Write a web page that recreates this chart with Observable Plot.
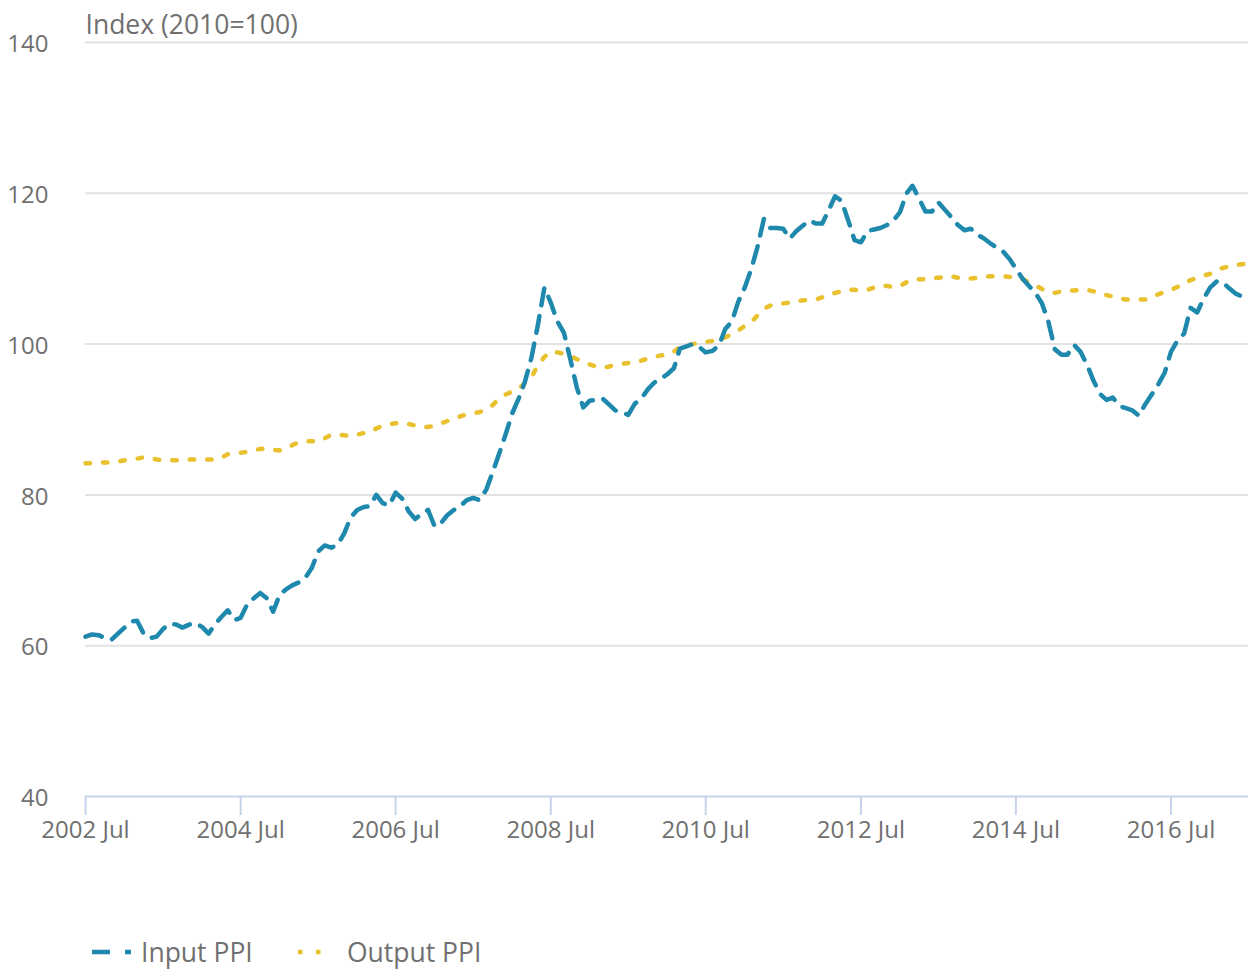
<!DOCTYPE html>
<html>
<head>
<meta charset="utf-8">
<script src="https://cdn.jsdelivr.net/npm/d3@7"></script>
<script src="https://cdn.jsdelivr.net/npm/@observablehq/plot@0.6"></script>
<style>
  html, body { margin: 0; padding: 0; background: #fff; }
  body { font-family: "Open Sans", sans-serif; width: 1248px; height: 970px; position: relative; overflow: hidden; }
  #chart { position: absolute; left: 0; top: 0; }
  #legend { position: absolute; left: 0; top: 934px; height: 40px; width: 1248px; }
  #legend .item { position: absolute; top: 0; display: flex; align-items: center; font-size: 26.5px; color: #707070; }
  #legend svg { display: block; }
</style>
</head>
<body>
<div id="chart"></div>
<div id="legend">
  <div class="item" style="left:92px">
    <svg width="40" height="36"><line x1="0" x2="39" y1="18" y2="18" stroke="#1f88ad" stroke-width="4.5" stroke-dasharray="18,15"/></svg>
    <span style="margin-left:9px">Input PPI</span>
  </div>
  <div class="item" style="left:298px">
    <svg width="26" height="36"><line x1="0" x2="26" y1="18" y2="18" stroke="#e9c12f" stroke-width="4.5" stroke-dasharray="4.5,13.5"/></svg>
    <span style="margin-left:23px">Output PPI</span>
  </div>
</div>
<script>
// Monthly observations, starting 2002 Jul
const startMonth = "2002-07-01";
const inputPPI = [
  61.2,61.5,61.4,61.0,60.8,61.6,62.4,63.2,63.3,61.6,61.0,61.2,
  62.2,62.9,62.8,62.4,62.8,63.0,62.5,61.6,62.8,63.8,64.7,63.4,
  63.7,65.5,66.3,67.0,66.3,64.5,66.8,67.5,68.0,68.4,69.0,70.3,
  72.5,73.3,73.0,73.4,74.9,77.0,78.0,78.4,78.5,80.0,78.9,78.6,
  80.3,79.5,77.8,76.8,77.5,78.0,75.8,76.3,77.3,78.0,78.5,79.3,
  79.6,79.3,80.7,83.0,85.5,88.0,90.8,92.8,95.0,98.2,102.5,107.5,
  105.5,103.0,101.5,98.0,94.2,91.6,92.5,92.6,92.8,92.0,91.2,91.0,
  90.6,92.1,92.8,94.0,94.9,95.4,96.0,96.8,99.4,99.7,100.0,99.6,
  98.9,99.1,99.8,102.0,103.0,105.6,107.5,110.0,112.8,116.6,115.4,115.4,
  115.3,114.0,115.0,115.7,116.4,116.0,116.0,117.8,119.6,119.0,116.5,113.8,
  113.5,115.0,115.2,115.4,115.8,116.4,117.5,120.0,121.0,119.3,117.6,117.6,
  118.8,117.8,116.8,115.8,115.1,115.3,114.5,114.0,113.4,112.8,112.3,111.3,
  110.0,108.7,107.7,106.8,105.4,103.0,99.3,98.6,98.6,99.9,99.0,97.3,
  95.2,93.4,92.6,92.9,91.8,91.5,91.2,90.5,92.0,93.3,94.6,96.2,
  99.0,100.5,101.4,104.8,104.2,106.0,107.5,108.3,108.2,107.4,106.7,106.3,
  106.0
];
const outputPPI = [
  84.2,84.2,84.3,84.3,84.3,84.4,84.6,84.7,84.8,85.0,84.9,84.7,
  84.6,84.6,84.6,84.6,84.7,84.7,84.7,84.7,84.7,84.9,85.4,85.5,
  85.6,85.7,85.9,86.1,86.2,86.0,85.9,86.2,86.6,87.0,87.1,87.1,
  87.1,87.5,88.0,88.0,87.9,87.8,88.0,88.2,88.3,88.8,89.2,89.4,
  89.5,89.6,89.4,89.2,89.0,89.0,89.2,89.5,89.8,90.1,90.4,90.7,
  90.8,91.0,91.3,91.9,92.8,93.3,93.7,94.1,94.8,95.6,97.2,98.3,
  99.0,98.9,98.7,98.4,98.0,97.6,97.3,97.0,96.9,97.0,97.3,97.4,
  97.5,97.6,97.8,98.1,98.3,98.5,98.6,99.0,99.6,99.8,100.0,100.2,
  100.3,100.4,100.5,100.9,101.3,101.8,102.4,102.9,103.8,104.7,105.1,105.3,
  105.4,105.5,105.7,105.8,105.8,105.9,106.2,106.5,106.8,107.0,107.2,107.2,
  107.1,107.2,107.5,107.8,107.7,107.6,107.7,108.2,108.6,108.6,108.6,108.7,
  108.8,108.9,109.0,108.8,108.6,108.7,108.8,108.9,109.0,109.0,109.0,108.9,
  108.8,108.6,108.2,107.8,107.3,106.9,106.8,107.0,107.1,107.1,107.2,107.2,
  107.0,106.7,106.5,106.3,106.1,105.9,105.9,105.9,105.9,106.2,106.6,106.9,
  107.2,107.6,108.0,108.5,108.8,109.1,109.3,109.7,110.1,110.3,110.5,110.6,
  110.7
];
const xTickLabels = ["2002-07","2004-07","2006-07","2008-07","2010-07","2012-07","2014-07","2016-07"];
const yTicks = [40, 60, 80, 100, 120, 140];
const yTitle = "Index (2010=100)";

const start = new Date(startMonth + "T00:00:00Z");
const rows = [];
inputPPI.forEach((v, i) => rows.push({date: d3.utcMonth.offset(start, i), value: v, series: "Input PPI"}));
outputPPI.forEach((v, i) => rows.push({date: d3.utcMonth.offset(start, i), value: v, series: "Output PPI"}));
const xTicks = xTickLabels.map(s => new Date(s + "-01T00:00:00Z"));

const textColor = "#707070";
const axisColor = "#c6d3ea";

const chart = Plot.plot({
  width: 1248,
  height: 870,
  marginTop: 42,
  marginLeft: 85,
  marginRight: 0,
  marginBottom: 74,
  style: {fontFamily: "'Open Sans', sans-serif", background: "#fff"},
  x: {type: "utc", domain: [start, d3.utcMonth.offset(start, inputPPI.length - 1)]},
  y: {domain: [40, 140]},
  marks: [
    Plot.gridY(yTicks.filter(t => t > 40), {stroke: "#e2e2e2", strokeOpacity: 1, strokeWidth: 2}),
    Plot.axisY(yTicks, {tickSize: 0, tickPadding: 37, fontSize: 24, fill: textColor, label: null, dy: 2}),
    Plot.ruleY([40], {stroke: axisColor, strokeWidth: 2}),
    Plot.axisX(xTicks, {tickSize: 19, tickPadding: 5, stroke: axisColor, strokeWidth: 2, fill: textColor, fontSize: 24, label: null, tickFormat: d3.utcFormat("%Y %b")}),
    Plot.text([yTitle], {frameAnchor: "top-left", dy: -27, textAnchor: "start", fontSize: 26.5, fill: textColor}),
    Plot.line(rows.filter(d => d.series === "Output PPI"), {x: "date", y: "value", stroke: "#e9c12f", strokeWidth: 4.5, strokeDasharray: "4.5,13"}),
    Plot.line(rows.filter(d => d.series === "Input PPI"), {x: "date", y: "value", stroke: "#1f88ad", strokeWidth: 4.5, strokeDasharray: "17,11"})
  ]
});
document.getElementById("chart").appendChild(chart);
</script>
</body>
</html>
